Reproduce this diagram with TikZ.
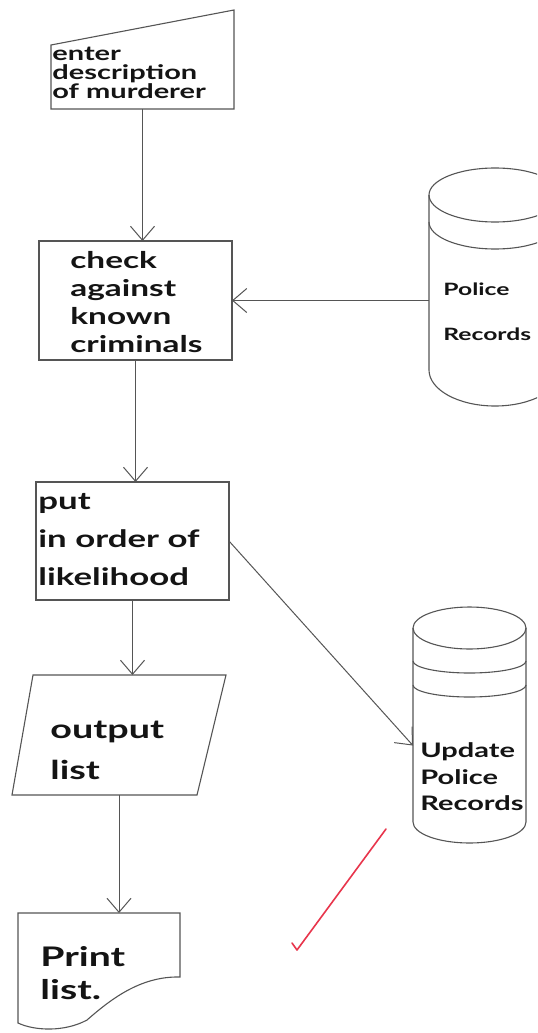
\documentclass[tikz,border=0pt]{standalone}
\usepackage{fontspec}
\newfontfamily\handfont{Lato}[FakeStretch=1.45]
\usetikzlibrary{arrows.meta,calc}
\definecolor{pencil}{HTML}{555555}
\definecolor{marker}{HTML}{141414}
\definecolor{redpen}{HTML}{E8354C}

\begin{document}
\begin{tikzpicture}[x=0.5pt,y=-0.5pt,
  frame/.style={draw=pencil, line width=0.55pt},
  shapebox/.style={inner sep=0pt, outer sep=0pt},
  flow/.style={draw=pencil, line width=0.5pt, -{Straight Barb[length=7pt,width=12pt]}},
  hand/.style 2 args={font=\handfont\bfseries\fontsize{#1}{#2}\selectfont,
    text=marker, align=left, inner sep=0pt, anchor=west},
]
\useasboundingbox (0,0) rectangle (537,1033);
\fill[white] (0,0) rectangle (537,1033);
\clip (0,0) rectangle (537,1033);

% manual input
\node[shapebox, minimum width=91.5pt, minimum height=49.5pt] (input) at (142.5,59.5) {};
\draw[frame] (input.south west) -- (input.south east) -- (input.north east)
  -- ($(input.north west)+(0,35)$) -- cycle;

% process boxes
\node[shapebox, frame, minimum width=96.5pt, minimum height=59.5pt] (check) at (135.5,300.5) {};
\node[shapebox, frame, minimum width=96.5pt, minimum height=59pt] (order) at (132.5,541) {};

% output (parallelogram)
\node[shapebox, minimum width=107pt, minimum height=60pt] (out) at (119,735) {};
\begin{scope}[shift={(out.north west)}]
  \draw[frame] (21,0) -- (214,0) -- (185,120) -- (0,120) -- cycle;
\end{scope}

% printed document
\node[shapebox, minimum width=81pt, minimum height=57.5pt] (doc) at (99,970.5) {};
\begin{scope}[shift={(doc.north west)}]
  \draw[frame] (0,0) -- (162,0) -- (162,64)
    .. controls (122,63) and (92,87) .. (69,107)
    .. controls (47,119) and (17,118) .. (0,110) -- cycle;
\end{scope}

% stored data: police records
\node[shapebox, minimum width=66pt, minimum height=119pt] (polrec) at (495,287) {};
\begin{scope}[shift={(polrec.north west)}]
  \draw[frame] (0,27) -- (0,202) arc[start angle=180,end angle=360,x radius=33pt,y radius=18pt] -- (132,27);
  \draw[frame] (66,27) ellipse[x radius=33pt,y radius=13.5pt];
  \draw[frame] (0,54) arc[start angle=180,end angle=360,x radius=33pt,y radius=13.5pt];
\end{scope}

% stored data: updated records
\node[shapebox, minimum width=56.5pt, minimum height=118pt] (update) at (469.5,725) {};
\begin{scope}[shift={(update.north west)}]
  \draw[frame] (0,21) -- (0,215) arc[start angle=180,end angle=360,x radius=28.25pt,y radius=10.5pt] -- (113,21);
  \draw[frame] (56.5,21) ellipse[x radius=28.25pt,y radius=10.5pt];
  \draw[frame] (0,54) arc[start angle=180,end angle=360,x radius=28.25pt,y radius=6pt];
  \draw[frame] (0,78) arc[start angle=180,end angle=360,x radius=28.25pt,y radius=6pt];
\end{scope}

% labels
\node[hand={10}{9.5}] (inputtxt) at (52,73) {enter\\description\\of murderer};
\node[hand={11.5}{14}] (checktxt) at (70,302) {check\\against\\known\\criminals};
\node[hand={8.5}{22.5}] (polrectxt) at (443,312) {Police\\Records};
\node[hand={12}{19}] (ordertxt) at (38,540) {put\\in order of\\likelihood};
\node[hand={13}{20.5}] (outtxt) at (50,750) {output\\list};
\node[hand={10}{13.25}] (updatetxt) at (420,777) {Update\\Police\\Records};
\node[hand={13.5}{16.5}] (doctxt) at (40,973) {Print\\list.};

% flow lines
\draw[flow] (input.south) -- (input.south |- check.north);
\draw[flow] (polrec.west |- check.east) -- (check.east);
\draw[flow] (check.south) -- (check.south |- order.north);
\draw[flow] (order.east) -- (update.200);
\draw[flow] (order.south) -- (order.south |- out.north);
\draw[flow] (out.south) -- (out.south |- doc.north);

% tick mark
\draw[redpen, line width=0.8pt, line cap=round, line join=round] (292,943) -- (297,950) -- (386,829);
\end{tikzpicture}
\end{document}
